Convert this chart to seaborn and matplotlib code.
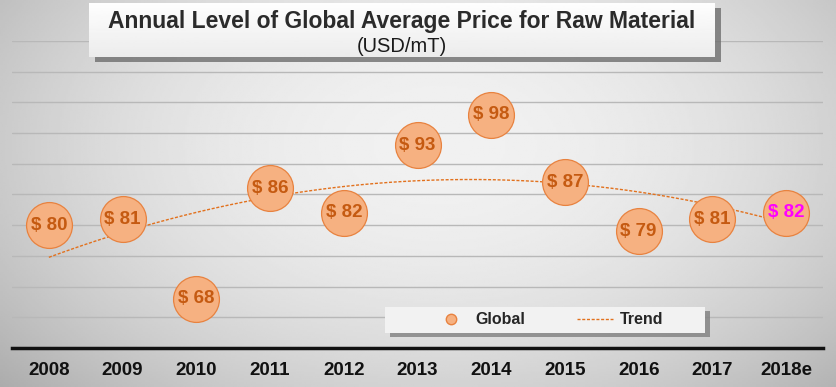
"""
Annual level of global average price for raw material - bubble chart with trend.
"""

import numpy as np
import matplotlib
matplotlib.use('Agg')
import matplotlib.pyplot as plt
from matplotlib.patches import Rectangle
from matplotlib.lines import Line2D
import seaborn as sns

years = ['2008', '2009', '2010', '2011', '2012', '2013', '2014',
         '2015', '2016', '2017', '2018e']
prices = [80, 81, 68, 86, 82, 93, 98, 87, 79, 81, 82]
label_colors = ['#C55A11'] * 10 + ['#FF00FF']

W, H = 837, 387


def fx(px):
    return px / W


def fy(py):
    # pixel from top -> figure fraction from bottom
    return 1 - py / H


sns.set_theme(style='white')
plt.rcParams['font.family'] = ['Liberation Sans', 'DejaVu Sans']

fig = plt.figure(figsize=(W / 100, H / 100), dpi=100)

# background radial gradient
bg = fig.add_axes([0, 0, 1, 1], zorder=-10)
gx, gy = np.meshgrid(np.linspace(-1, 1, 400), np.linspace(-1, 1, 200))
r2 = ((gx - 0.05) / 1.05) ** 2 + ((gy + 0.25) / 1.4) ** 2
shade = np.clip(0.945 - 0.15 * r2, 0, 1)
bg.imshow(shade, cmap='gray', vmin=0, vmax=1, aspect='auto',
          extent=[0, 1, 0, 1], origin='upper')
bg.axis('off')

ax = fig.add_axes([fx(12), fy(348), fx(811), fy(41) - fy(348)])
ax.patch.set_alpha(0)

x = np.arange(len(years))

# gridlines
for v in range(65, 111, 5):
    ax.axhline(v, color='#b8b8b8', lw=1.0, zorder=0)

# polynomial (order 2) trend line, as in the spreadsheet
coef = np.polyfit(x, prices, 2)
xs = np.linspace(0, len(years) - 1, 200)
sns.lineplot(x=xs, y=np.polyval(coef, xs), ax=ax, color='#E2711D', lw=1.0,
             linestyle=(0, (2.2, 1.2)), zorder=2)

sns.scatterplot(x=x, y=prices, ax=ax, s=1090, color='#F6B181',
                edgecolor='#E8823F', linewidth=0.9, alpha=1.0, zorder=3,
                legend=False)

for xi, v, c in zip(x, prices, label_colors):
    ax.text(xi, v, f'$ {v}', ha='center', va='center', fontsize=13.5,
            fontweight='bold', color=c, zorder=4)

ax.set_xlim(-0.5, 10.5)
ax.set_ylim(60, 110)
ax.set_xticks(x)
ax.set_xticklabels(years, fontsize=13.5, fontweight='bold', color='#111111')
ax.set_yticks([])
ax.tick_params(axis='x', length=0, pad=10)
for side in ['top', 'left', 'right']:
    ax.spines[side].set_visible(False)
ax.spines['bottom'].set_color('#111111')
ax.spines['bottom'].set_linewidth(2.5)
ax.set_xlabel('')
ax.set_ylabel('')

# title box with shadow and vertical gradient
tb = (89, 3, 715, 57)
fig.patches.append(Rectangle((fx(tb[0] + 6), fy(tb[3] + 5)), fx(tb[2] - tb[0]),
                             fy(tb[1]) - fy(tb[3]), transform=fig.transFigure,
                             facecolor='#6e6e6e', edgecolor='none', zorder=5,
                             alpha=0.8))
tax = fig.add_axes([fx(tb[0]), fy(tb[3]), fx(tb[2] - tb[0]),
                    fy(tb[1]) - fy(tb[3])], zorder=6)
grad = np.linspace(0.995, 0.925, 50).reshape(-1, 1)
tax.imshow(grad, cmap='gray', vmin=0, vmax=1, aspect='auto',
           extent=[0, 1, 0, 1])
tax.set_xlim(0, 1)
tax.set_ylim(0, 1)
tax.axis('off')
tax.text(0.5, 0.66, 'Annual Level of Global Average Price for Raw Material',
         ha='center', va='center', fontsize=16.5, fontweight='bold',
         color='#2b2b2b')
tax.text(0.5, 0.2, '(USD/mT)', ha='center', va='center', fontsize=14.5,
         color='#1a1a1a')

# legend box with shadow
lb = (385, 307, 705, 333)
fig.patches.append(Rectangle((fx(lb[0] + 5), fy(lb[3] + 4)), fx(lb[2] - lb[0]),
                             fy(lb[1]) - fy(lb[3]), transform=fig.transFigure,
                             facecolor='#808080', edgecolor='none', zorder=5,
                             alpha=0.8))
fig.patches.append(Rectangle((fx(lb[0]), fy(lb[3])), fx(lb[2] - lb[0]),
                             fy(lb[1]) - fy(lb[3]), transform=fig.transFigure,
                             facecolor='#f2f2f2', edgecolor='none', zorder=6))
handles = [
    Line2D([], [], marker='o', ls='none', markersize=7.5,
           markerfacecolor='#F6B181', markeredgecolor='#E8823F'),
    Line2D([], [], color='#E2711D', lw=1.0, linestyle=(0, (2.2, 1.2))),
]
leg = fig.legend(handles, ['Global', 'Trend'], ncol=2, frameon=False,
                 loc='center', bbox_to_anchor=(fx(548), fy(320)),
                 prop={'weight': 'bold', 'size': 11.5}, handlelength=2.3,
                 handletextpad=0.4, columnspacing=3.2)
leg.set_zorder(7)
for t in leg.get_texts():
    t.set_color('#262626')

fig.savefig('out.png', dpi=100)
